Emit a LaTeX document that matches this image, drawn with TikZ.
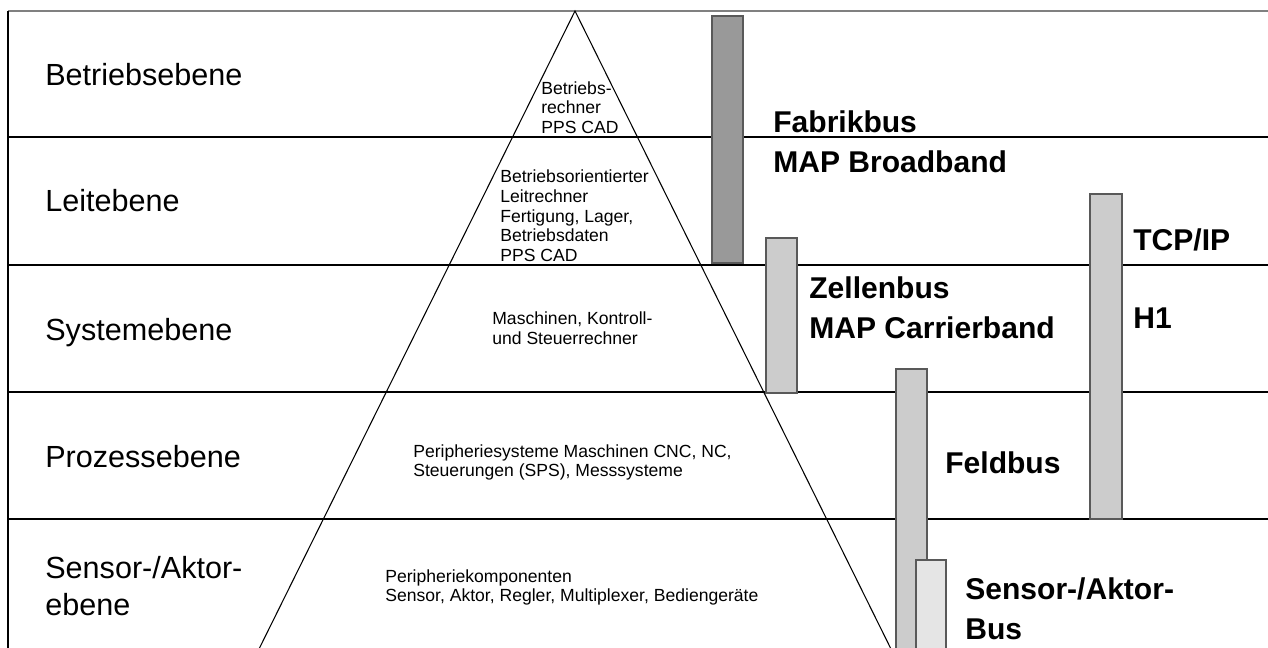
\documentclass[tikz,border=0pt]{standalone}
\usepackage{fontspec}
\setmainfont{Liberation Sans}
\usetikzlibrary{positioning, calc}

\tikzset{
    ebene/.style={anchor=base west, inner sep=0pt, font=\fontsize{17.4}{21}\selectfont},
    info/.style={anchor=base west, inner sep=0pt, font=\fontsize{10}{12}\selectfont},
    bus/.style={anchor=base west, inner sep=0pt, font=\fontsize{17.1}{21}\selectfont\bfseries},
    trenner/.style={line width=1.1pt},
    balken/.style={draw=black!65, line width=0.6pt},
}

\begin{document}
\begin{tikzpicture}[x=0.02cm, y=-0.02cm]
    \useasboundingbox (0,0) rectangle (1268,647);

    \draw[black!50, line width=1.2pt] (8,11) -- (1268,11);
    \draw[line width=0.6pt] (8,11) -- (8,650);
    \foreach \y in {137,265,392,519}
        \draw[trenner] (8,\y) -- (1268,\y);

    \draw[line width=0.6pt] (258,651) -- (575,11) -- (892,651);

    \draw[balken, fill=black!40] (712,16) rectangle (743,263);
    \draw[balken, fill=black!20] (766,238) rectangle (797,393);
    \draw[balken, fill=black!20] (1090,194) rectangle (1122,519);
    \draw[balken, fill=black!20] (896,369) rectangle (927,660);
    \draw[balken, fill=black!10] (916,560) rectangle (946,660);

    \node[ebene] (betrieb) at (45,85) {Betriebsebene};
    \node[ebene] (leit) at (45,211) {Leitebene};
    \node[ebene] (system) at (45,340) {Systemebene};
    \node[ebene] (prozess) at (45,467) {Prozessebene};
    \node[ebene] (sensor) at (45,578) {Sensor-/Aktor-};
    \node[ebene] (sensorb) at ([yshift=-0.74cm]sensor.base west) {ebene};

    \node[info] (br1) at (541,94) {Betriebs-};
    \node[info] (br2) at ([yshift=-0.39cm]br1.base west) {rechner};
    \node[info] (br3) at ([yshift=-0.39cm]br2.base west) {PPS CAD};

    \node[info] (lr1) at (500,182) {Betriebsorientierter};
    \node[info] (lr2) at ([yshift=-0.4cm]lr1.base west) {Leitrechner};
    \node[info] (lr3) at ([yshift=-0.4cm]lr2.base west) {Fertigung, Lager,};
    \node[info] (lr4) at ([yshift=-0.4cm]lr3.base west) {Betriebsdaten};
    \node[info] (lr5) at ([yshift=-0.4cm]lr4.base west) {PPS CAD};

    \node[info] (sr1) at (492,324) {Maschinen, Kontroll-};
    \node[info] (sr2) at ([yshift=-0.4cm]sr1.base west) {und Steuerrechner};

    \node[info] (ps1) at (413,457) {Peripheriesysteme Maschinen CNC, NC,};
    \node[info] (ps2) at ([yshift=-0.38cm]ps1.base west) {Steuerungen (SPS), Messsysteme};

    \node[info] (pk1) at (385,582) {Peripheriekomponenten};
    \node[info] (pk2) at ([yshift=-0.39cm]pk1.base west) {Sensor, Aktor, Regler, Multiplexer, Bediengeräte};

    \node[bus] (fabrik) at (773,132) {Fabrikbus};
    \node[bus] (broad) at ([yshift=-0.8cm]fabrik.base west) {MAP Broadband};
    \node[bus] (zellen) at (809,298) {Zellenbus};
    \node[bus] (carrier) at ([yshift=-0.8cm]zellen.base west) {MAP Carrierband};
    \node[bus] (tcp) at (1133,250) {TCP/IP};
    \node[bus] (hone) at (1133,328) {H1};
    \node[bus] (feld) at (945,473) {Feldbus};
    \node[bus] (sab) at (965,599) {Sensor-/Aktor-};
    \node[bus] (sabb) at ([yshift=-0.8cm]sab.base west) {Bus};
\end{tikzpicture}
\end{document}
